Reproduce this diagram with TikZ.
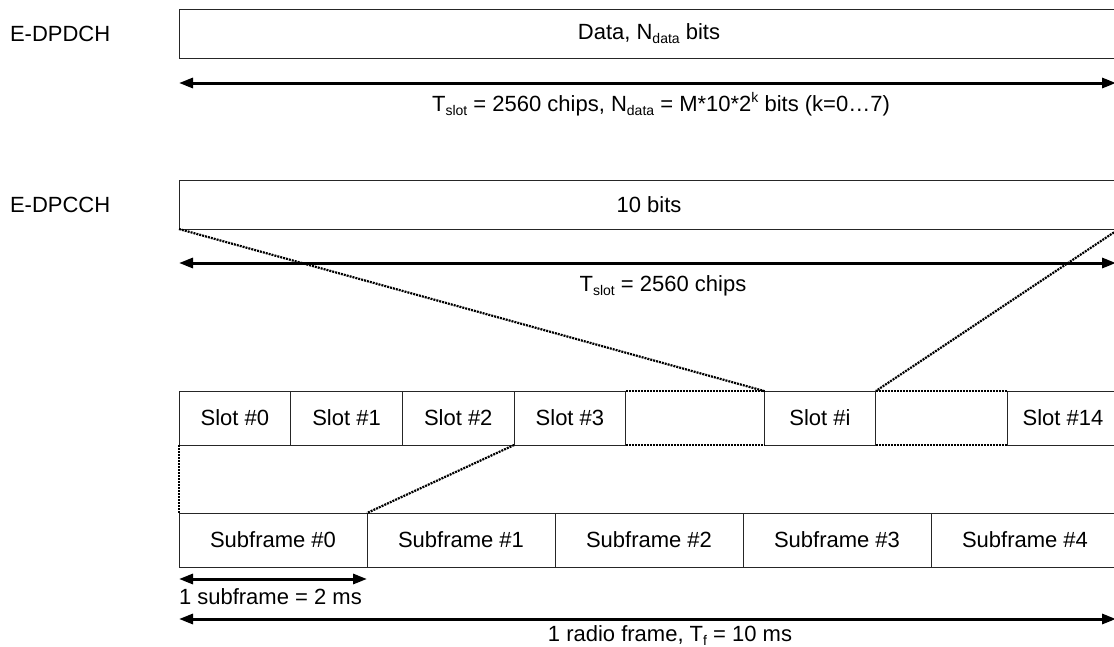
\documentclass[tikz,border=0pt]{standalone}
\usepackage{fontspec}
\setmainfont{Liberation Sans}
\usetikzlibrary{arrows.meta}
\newcommand\lsub[1]{\raisebox{-4pt}{\fontsize{14}{14}\selectfont #1}}
\newcommand\lsup[1]{\raisebox{9pt}{\fontsize{14}{14}\selectfont #1}}
\begin{document}
\begin{tikzpicture}[x=1pt,y=-1pt,
  every node/.style={font=\fontsize{22}{26}\selectfont, inner sep=0pt, outer sep=0pt},
  box/.style={draw=black!85, line width=1pt, minimum height=49pt},
  slotbox/.style={box, minimum width=111.7pt, minimum height=54pt},
  sfbox/.style={box, minimum width=188pt, minimum height=54pt},
  dimarrow/.style={line width=3pt, {Triangle[length=14pt,width=10pt]}-{Triangle[length=14pt,width=10pt]}},
  dots/.style={line width=2.2pt, dash pattern=on 2pt off 1pt},
  txt/.style={anchor=base}
]
\useasboundingbox (0,0) rectangle (1114,646);
\fill[white] (0,0) rectangle (1114,646);

% channel labels
\node[anchor=base west] (lab1) at (10,41.5) {E-DPDCH};
\node[anchor=base west] (lab2) at (10,212.5) {E-DPCCH};

% top boxes
\node[box, minimum width=940pt] (dpdch) at (649,33.5) {Data, N\lsub{data} bits};
\node[box, minimum width=940pt] (dpcch) at (649,204.5) {10 bits};

% slot arrows
\coordinate (a1l) at (179,83);
\coordinate (a1r) at (1116,83);
\draw[dimarrow] (a1l) -- (a1r);
\node[txt] (t1) at (661,111) {T\lsub{slot} = 2560 chips, N\lsub{data} = M*10*2\lsup{k} bits (k=0…7)};

\coordinate (a2l) at (179,263);
\coordinate (a2r) at (1116,263);
\draw[dimarrow] (a2l) -- (a2r);
\node[txt] (t2) at (663,291) {T\lsub{slot} = 2560 chips};

% slots
\node[slotbox] (slot0) at (234.85,418) {Slot \#0};
\node[slotbox] (slot1) at (346.55,418) {Slot \#1};
\node[slotbox] (slot2) at (458.25,418) {Slot \#2};
\node[slotbox] (slot3) at (569.95,418) {Slot \#3};
\node[slotbox] (sloti) at (820,418) {Slot \#i};
\node[slotbox] (slot14) at (1063,418) {Slot \#14};

\draw[dots] (slot3.north east) -- (sloti.north west);
\draw[dots] (slot3.south east) -- (sloti.south west);
\draw[dots] (sloti.north east) -- (slot14.north west);
\draw[dots] (sloti.south east) -- (slot14.south west);

% subframes
\node[sfbox] (sf0) at (273,540) {Subframe \#0\hspace{14pt}};
\node[sfbox] (sf1) at (461,540) {Subframe \#1\hspace{14pt}};
\node[sfbox] (sf2) at (649,540) {Subframe \#2\hspace{14pt}};
\node[sfbox] (sf3) at (837,540) {Subframe \#3\hspace{14pt}};
\node[sfbox] (sf4) at (1025,540) {Subframe \#4\hspace{14pt}};

% zoom lines
\draw[dots] (dpcch.south west) -- (sloti.north west);
\draw[dots] (dpcch.south east) -- (sloti.north east);
\draw[dots] (slot0.south west) -- (sf0.north west);
\draw[dots] (slot3.south west) -- (sf0.north east);

% time arrows
\coordinate (a3l) at (179,579);
\coordinate (a3r) at (367,579);
\draw[dimarrow] (a3l) -- (a3r);
\node[anchor=base west] (t3) at (179,604) {1 subframe = 2 ms};

\coordinate (a4l) at (179,619);
\coordinate (a4r) at (1116,619);
\draw[dimarrow] (a4l) -- (a4r);
\node[txt] (t4) at (670,641) {1 radio frame, T\lsub{f} = 10 ms};
\end{tikzpicture}
\end{document}
